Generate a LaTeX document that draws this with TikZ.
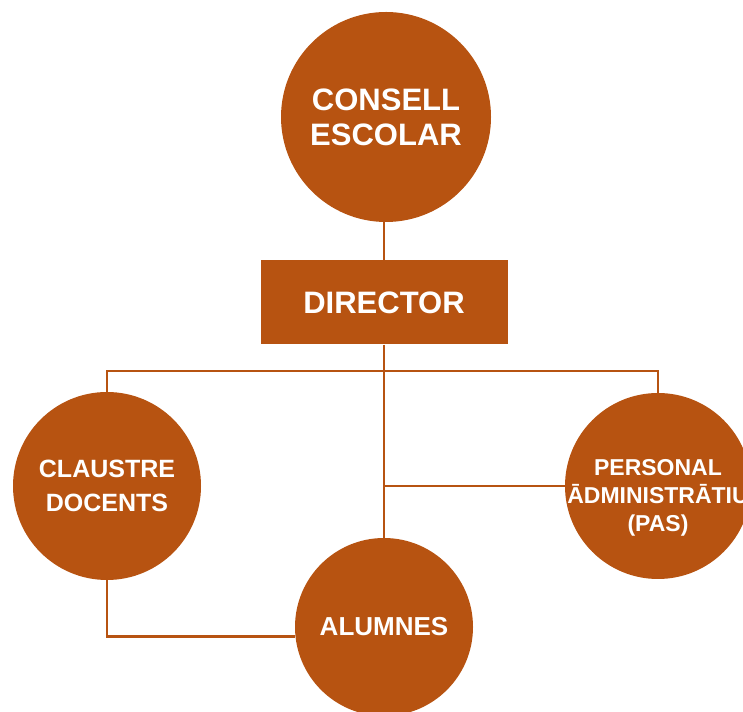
\documentclass[tikz,border=0pt]{standalone}
\usepackage{fontspec}
\setmainfont{Liberation Sans}
\usetikzlibrary{positioning}

\definecolor{rovell}{RGB}{183,83,17}
\tikzset{
    organ/.style={circle, fill=rovell, text=white, align=center, inner sep=0pt},
    carrec/.style={rectangle, fill=rovell, text=white, minimum width=247pt, minimum height=84pt},
    lligam/.style={draw=rovell, line width=2.8pt}
}

\begin{document}
\begin{tikzpicture}[x=1pt,y=1pt]
        \useasboundingbox (0,0) rectangle (743,711);
        \clip (0,0) rectangle (743,711);
        \node[organ, minimum size=210pt, font=\bfseries\fontsize{31}{35}\selectfont] (consell) at (386,594) {CONSELL\\ESCOLAR};
        \node[carrec, below=38pt of consell, xshift=-2pt, font=\bfseries\fontsize{31}{35}\selectfont] (director) {DIRECTOR};
        \node[organ, minimum size=188pt, font=\bfseries\fontsize{25}{34}\selectfont] (claustre) at (107,225) {CLAUSTRE\\DOCENTS};
        \node[organ, minimum size=186pt] (personal) at (658,225) {};
        \node[text=white, align=center, font=\bfseries\fontsize{23}{28}\selectfont] (pas) at ([yshift=-12pt]personal) {PERSONAL\\ĀDMINISTRĀTIU\\(PAS)};
        \node[organ, minimum size=178pt, font=\bfseries\fontsize{26}{30}\selectfont] (alumnes) at (384,84) {ALUMNES};
        \coordinate (bus) at (384,340);
        % connectors
        \draw[lligam] (consell.south -| director.north) -- (director.north);
        \draw[lligam] (director.south) -- (alumnes.north);
        \draw[lligam] (claustre.north) |- (bus) -| (personal.north);
        \draw[lligam] (personal.west) -- (personal.west -| director.south);
        \draw[lligam] (claustre.south) |- (alumnes.186);
    \end{tikzpicture}
\end{document}
